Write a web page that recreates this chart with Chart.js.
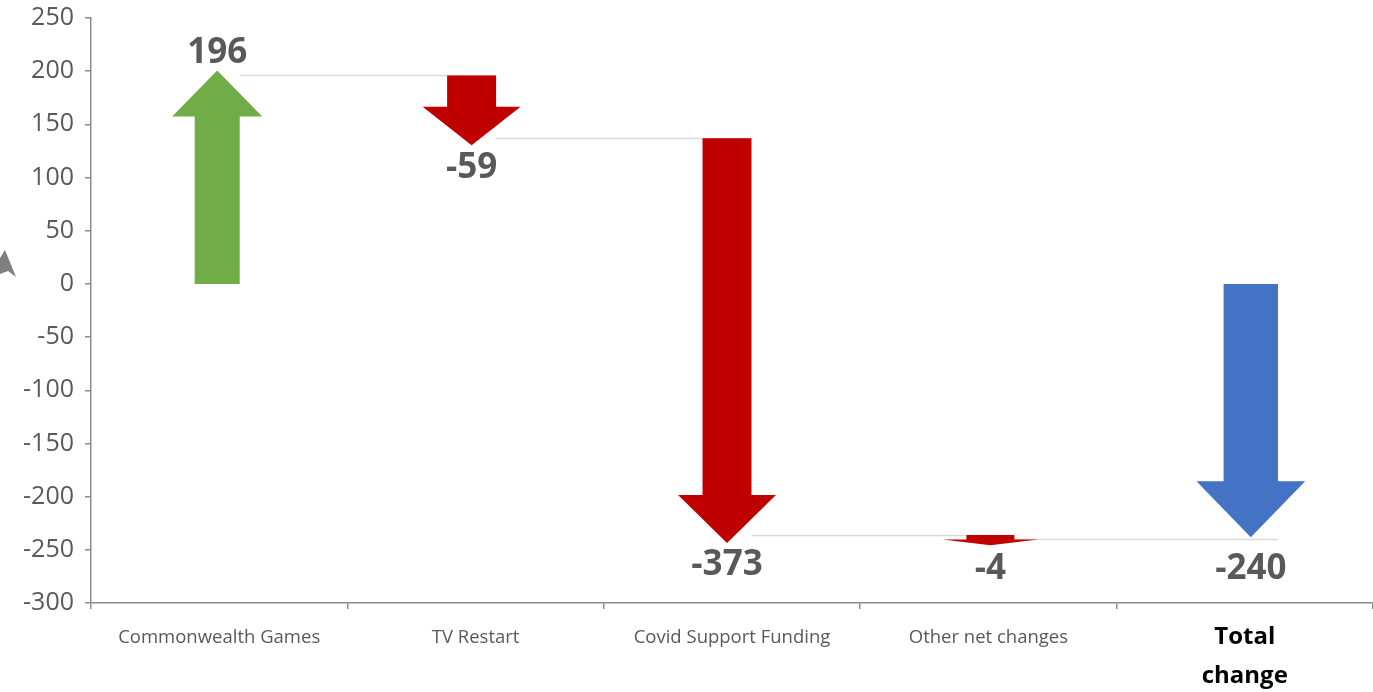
<!DOCTYPE html>
<html>
<head>
<meta charset="utf-8">
<script src="https://cdn.jsdelivr.net/npm/chart.js@4.4.0/dist/chart.umd.min.js"></script>
<style>
  html, body { margin: 0; padding: 0; background: #fff; }
  #wrap { width: 1373px; height: 692px; position: relative; }
</style>
</head>
<body>
<div id="wrap"><canvas id="bridgeChart"></canvas></div>
<script>
// Budget bridge: each step moves the running total, last bar is the overall change
const categories = ['Commonwealth Games', 'TV Restart', 'Covid Support Funding', 'Other net changes', ['Total', 'change']];
const changes = [196, -59, -373, -4];
const totalChange = -240;
const yTickValues = [-300, -250, -200, -150, -100, -50, 0, 50, 100, 150, 200, 250];

// floating [start, end] ranges for every step, total runs from zero
const ranges = [];
let running = 0;
changes.forEach(v => {
    ranges.push([running, running + v]);
    running += v;
});
ranges.push([0, totalChange]);
const valueLabels = [...changes, totalChange].map(v => String(v));

// arrow look per bar (hand-placed shapes, slightly nudged sideways)
const arrowStyles = [
    { color: '#70AD47', scale: 0.92, headMax: 46, shift: -2, over: 5 },
    { color: '#C00000', scale: 1.0, headMax: 48, shift: -4, over: 7 },
    { color: '#C00000', scale: 1.0, headMax: 48, shift: -5, over: 8 },
    { color: '#C00000', scale: 0.98, headMax: 48, shift: 2, over: 6 },
    { color: '#4472C4', scale: 1.11, headMax: 56, shift: 6, over: -2 }
];

const labelGrey = '#595959';
const axisGrey = '#8c8c8c';

function arrowGeometry(chart, i) {
    const yScale = chart.scales.y;
    const bar = chart.getDatasetMeta(0).data[i];
    const st = arrowStyles[i];
    const pStart = yScale.getPixelForValue(ranges[i][0]);
    const pEnd = yScale.getPixelForValue(ranges[i][1]);
    const dir = pEnd > pStart ? 1 : -1;
    const len = Math.max(Math.abs(pEnd - pStart) + st.over, 10);
    const headW = bar.width * st.scale;
    const shaftW = headW * 0.5;
    const headL = Math.min(st.headMax, len * 0.55);
    const tip = pStart + dir * len;
    return { x: bar.x + st.shift, pStart, pEnd, dir, tip, headW, shaftW, headL };
}

const arrowPlugin = {
    id: 'arrows',
    beforeDatasetsDraw(chart) {
        // thin connectors carrying each running level over to the next step
        const ctx = chart.ctx;
        const yScale = chart.scales.y;
        ctx.save();
        ctx.strokeStyle = '#d9d9d9';
        ctx.lineWidth = 1.5;
        for (let i = 0; i < ranges.length - 1; i++) {
            const a = arrowGeometry(chart, i);
            const b = arrowGeometry(chart, i + 1);
            const yy = Math.round(yScale.getPixelForValue(ranges[i][1])) + 0.5;
            ctx.beginPath();
            ctx.moveTo(a.x + a.shaftW / 2, yy);
            ctx.lineTo(b.x + b.shaftW / 2, yy);
            ctx.stroke();
        }
        ctx.restore();
    },
    afterDatasetsDraw(chart) {
        const ctx = chart.ctx;
        ctx.save();
        ranges.forEach((r, i) => {
            const g = arrowGeometry(chart, i);
            const headBase = g.tip - g.dir * g.headL;
            ctx.fillStyle = arrowStyles[i].color;
            ctx.beginPath();
            ctx.moveTo(g.x - g.shaftW / 2, g.pStart);
            ctx.lineTo(g.x + g.shaftW / 2, g.pStart);
            ctx.lineTo(g.x + g.shaftW / 2, headBase);
            ctx.lineTo(g.x + g.headW / 2, headBase);
            ctx.lineTo(g.x, g.tip);
            ctx.lineTo(g.x - g.headW / 2, headBase);
            ctx.lineTo(g.x - g.shaftW / 2, headBase);
            ctx.closePath();
            ctx.fill();

            // value printed off the end level of the step
            ctx.fillStyle = labelGrey;
            ctx.font = "bold 35px 'Open Sans'";
            ctx.textAlign = 'center';
            ctx.textBaseline = 'middle';
            const ly = g.dir < 0 ? g.pEnd - 22 : g.pEnd + 30;
            ctx.fillText(valueLabels[i], g.x, ly);
        });
        ctx.restore();
    },
    afterDraw(chart) {
        // pointer arrow cut off at the left edge
        const ctx = chart.ctx;
        ctx.save();
        ctx.fillStyle = '#7f7f7f';
        ctx.beginPath();
        ctx.moveTo(5, 250);
        ctx.lineTo(16, 277);
        ctx.lineTo(8, 271);
        ctx.lineTo(0, 274);
        ctx.lineTo(0, 258);
        ctx.closePath();
        ctx.fill();
        ctx.restore();
    }
};

new Chart(document.getElementById('bridgeChart'), {
    type: 'bar',
    data: {
        labels: categories,
        datasets: [{
            data: ranges,
            backgroundColor: 'rgba(0,0,0,0)',
            borderWidth: 0,
            barPercentage: 0.382,
            categoryPercentage: 1
        }]
    },
    plugins: [arrowPlugin],
    options: {
        responsive: true,
        maintainAspectRatio: false,
        animation: false,
        layout: { padding: { top: 18, left: 0, right: 0, bottom: 0 } },
        plugins: {
            legend: { display: false },
            tooltip: { enabled: false }
        },
        scales: {
            x: {
                grid: {
                    display: true,
                    drawOnChartArea: false,
                    offset: true,
                    tickLength: 6,
                    color: axisGrey,
                    lineWidth: 1.5
                },
                border: { color: axisGrey, width: 1.5 },
                ticks: {
                    maxRotation: 0,
                    autoSkip: false,
                    padding: 9,
                    color: c => c.index === 4 ? '#000000' : labelGrey,
                    font: c => c.index === 4
                        ? { family: "'Open Sans'", size: 24, weight: 'bold', lineHeight: '39px' }
                        : { family: "'Open Sans'", size: 18.5, lineHeight: '39px' }
                },
                afterFit(scale) { scale.height = 89; }
            },
            y: {
                min: -300,
                max: 250,
                grid: {
                    display: true,
                    drawOnChartArea: false,
                    tickLength: 6,
                    color: axisGrey,
                    lineWidth: 1.5
                },
                border: { color: axisGrey, width: 1.5 },
                ticks: {
                    padding: 11,
                    color: labelGrey,
                    font: { family: "'Open Sans'", size: 25 }
                },
                afterBuildTicks(scale) {
                    scale.ticks = yTickValues.map(v => ({ value: v }));
                },
                afterFit(scale) {
                    scale.width = 91;
                    scale.paddingTop = 0;
                    scale.paddingBottom = 0;
                }
            }
        }
    }
});
</script>
</body>
</html>
